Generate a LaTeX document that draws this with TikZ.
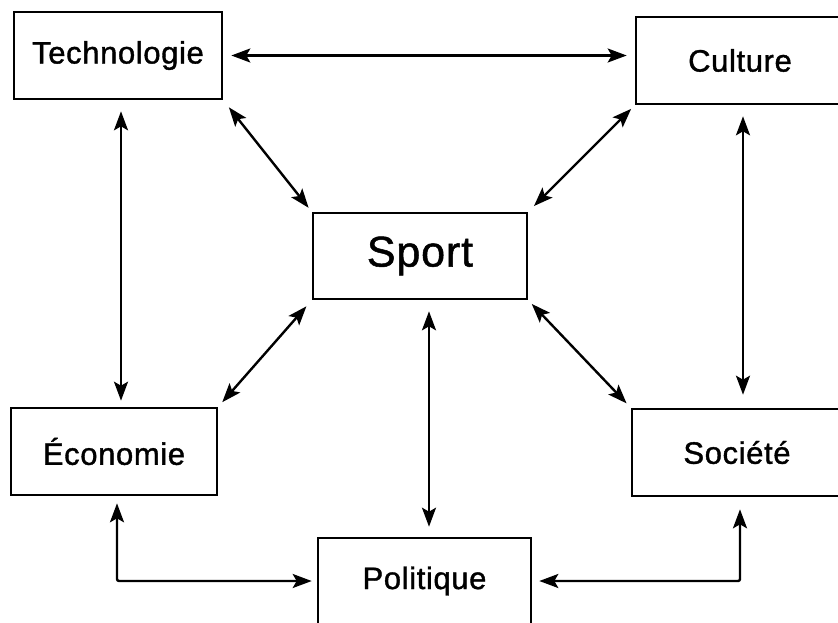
\documentclass[tikz,border=0pt]{standalone}
\usepackage{fontspec}
\setmainfont{Liberation Sans}
\newfontfamily\labfont{Liberation Sans}[FakeBold=1.2, LetterSpace=2]
\usetikzlibrary{arrows.meta}
\begin{document}
\begin{tikzpicture}[x=1pt,y=-1pt,
  field/.style={draw, line width=2.6pt, rectangle, minimum width=208pt,
    minimum height=87pt, inner sep=0pt, font=\labfont\fontsize{31}{36}\selectfont},
  link/.style={line width=2.4pt, {Stealth[length=19pt,width=14pt,inset=4pt]}-{Stealth[length=19pt,width=14pt,inset=4pt]}}]
  \clip (0,0) rectangle (838,622);
  \fill[white] (0,0) rectangle (838,622);

  % the six fields
  \node[field] (tech) at (118,55.5) {Technologie};
  \node[field] (cult) at (740,60.5) {Culture};
  \node[field, minimum width=214pt, minimum height=86pt,
        font=\labfont\fontsize{43}{48}\selectfont] (sport) at (420,256) {Sport};
  \node[field, minimum width=206pt] (eco) at (114,451.5) {Économie};
  \node[field, minimum width=210pt] (soc) at (737,452.5) {Société};
  \node[field, minimum width=213pt, minimum height=86pt] (pol) at (424.5,581) {Politique};

  % links between the outer fields
  \draw[link, shorten <=8pt, shorten >=8pt] (tech.east) -- (tech.east -| cult.west);
  \draw[link, shorten <=11pt, shorten >=6pt] ([xshift=3pt]tech.south) -- ([xshift=3pt]tech.south |- eco.north);
  \draw[link, shorten <=11pt, shorten >=13pt] ([xshift=3pt]cult.south) -- ([xshift=3pt]cult.south |- soc.north);

  % links to the centre
  \draw[link, shorten <=9pt, shorten >=5pt] (tech.south east) -- (sport.north west);
  \draw[link, shorten <=5pt, shorten >=8pt] (cult.south west) -- (sport.north east);
  \draw[link, shorten <=8pt, shorten >=6pt] (sport.south west) -- (eco.north east);
  \draw[link, shorten <=5pt, shorten >=6pt] (sport.south east) -- (soc.north west);
  \draw[link, shorten <=11pt, shorten >=10pt] ([xshift=9pt]sport.south) -- ([xshift=9pt]sport.south |- pol.north);

  % links to Politique along the bottom
  \draw[link, rounded corners=2pt, shorten <=7pt, shorten >=5pt] ([xshift=3pt]eco.south) |- (pol.west);
  \draw[link, rounded corners=2pt, shorten <=12pt, shorten >=7pt] ([xshift=3pt]soc.south) |- (pol.east);
\end{tikzpicture}
\end{document}
